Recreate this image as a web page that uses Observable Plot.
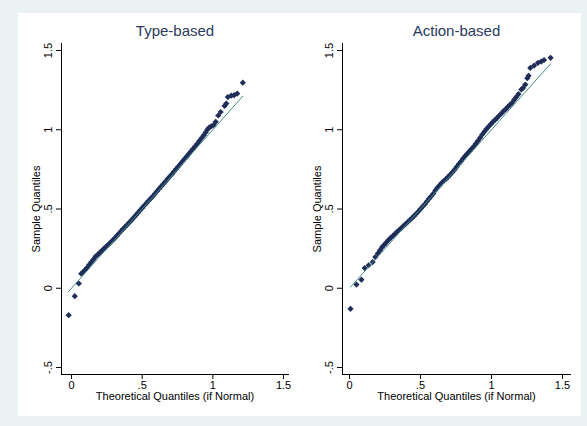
<!DOCTYPE html>
<html>
<head>
<meta charset="utf-8">
<script src="https://cdn.jsdelivr.net/npm/d3@7"></script>
<script src="https://cdn.jsdelivr.net/npm/@observablehq/plot@0.6"></script>
<style>
  html, body { margin: 0; padding: 0; }
  body { width: 587px; height: 426px; background: #eaf2f3; position: relative; overflow: hidden; font-family: "Liberation Sans", Arial, sans-serif; }
  #inner { position: absolute; left: 18px; top: 13px; width: 563px; height: 403px; background: #fff; }
  .panel { position: absolute; top: 13px; }
</style>
</head>
<body>
<div id="inner"></div>
<div id="p1" class="panel" style="left:18px"></div>
<div id="p2" class="panel" style="left:300px"></div>
<script>
const panelTitles = ["Type-based", "Action-based"];
const xLabel = "Theoretical Quantiles (if Normal)";
const yLabel = "Sample Quantiles";
const xTicks = [0, 0.5, 1, 1.5];
const yTicks = [-0.5, 0, 0.5, 1, 1.5];

// Type-based: theoretical quantiles (x) and sample quantiles (y)
const typeTheo = [-0.02, 0.023, 0.052, 0.069, 0.083, 0.095, 0.11, 0.125, 0.14, 0.155, 0.17, 0.185, 0.20, 0.215, 0.23, 0.245, 0.26, 0.275, 0.29, 0.305, 0.32, 0.335, 0.35, 0.365, 0.38, 0.395, 0.41, 0.425, 0.44, 0.455, 0.47, 0.485, 0.50, 0.515, 0.53, 0.545, 0.56, 0.575, 0.59, 0.605, 0.62, 0.635, 0.65, 0.665, 0.68, 0.695, 0.71, 0.725, 0.74, 0.755, 0.77, 0.785, 0.80, 0.815, 0.83, 0.845, 0.86, 0.875, 0.89, 0.905, 0.92, 0.935, 0.95, 0.962, 0.975, 0.99, 1.005, 1.02, 1.038, 1.055, 1.083, 1.095, 1.106, 1.13, 1.15, 1.172, 1.212];
const typeSample = [-0.17, -0.05, 0.03, 0.092, 0.103, 0.115, 0.13, 0.148, 0.165, 0.182, 0.2, 0.212, 0.225, 0.238, 0.25, 0.263, 0.275, 0.288, 0.302, 0.315, 0.33, 0.345, 0.36, 0.374, 0.388, 0.402, 0.416, 0.43, 0.445, 0.46, 0.476, 0.492, 0.507, 0.522, 0.537, 0.552, 0.566, 0.58, 0.596, 0.612, 0.628, 0.643, 0.658, 0.673, 0.69, 0.705, 0.72, 0.736, 0.752, 0.768, 0.784, 0.8, 0.816, 0.832, 0.848, 0.864, 0.88, 0.896, 0.912, 0.93, 0.948, 0.965, 0.985, 1.002, 1.015, 1.022, 1.03, 1.05, 1.09, 1.112, 1.15, 1.165, 1.206, 1.215, 1.218, 1.228, 1.297];

// Action-based
const actionTheo = [0.007, 0.049, 0.084, 0.107, 0.135, 0.163, 0.182, 0.20, 0.215, 0.23, 0.245, 0.26, 0.275, 0.29, 0.305, 0.32, 0.335, 0.35, 0.365, 0.38, 0.395, 0.41, 0.425, 0.44, 0.455, 0.47, 0.485, 0.50, 0.515, 0.53, 0.545, 0.56, 0.575, 0.59, 0.605, 0.62, 0.635, 0.65, 0.665, 0.68, 0.695, 0.71, 0.725, 0.74, 0.755, 0.77, 0.785, 0.80, 0.815, 0.83, 0.845, 0.86, 0.875, 0.89, 0.905, 0.92, 0.935, 0.95, 0.965, 0.98, 0.995, 1.01, 1.025, 1.04, 1.055, 1.07, 1.085, 1.10, 1.115, 1.13, 1.145, 1.16, 1.175, 1.19, 1.21, 1.222, 1.238, 1.252, 1.261, 1.273, 1.30, 1.327, 1.35, 1.37, 1.416];
const actionSample = [-0.13, 0.023, 0.054, 0.127, 0.145, 0.165, 0.197, 0.22, 0.24, 0.26, 0.275, 0.29, 0.305, 0.318, 0.33, 0.343, 0.356, 0.368, 0.38, 0.393, 0.405, 0.418, 0.43, 0.443, 0.456, 0.47, 0.485, 0.5, 0.515, 0.53, 0.548, 0.565, 0.58, 0.597, 0.618, 0.635, 0.65, 0.665, 0.678, 0.69, 0.703, 0.717, 0.732, 0.748, 0.766, 0.784, 0.8, 0.818, 0.835, 0.85, 0.865, 0.88, 0.895, 0.912, 0.93, 0.95, 0.97, 0.988, 1.005, 1.02, 1.035, 1.05, 1.062, 1.075, 1.09, 1.103, 1.118, 1.13, 1.145, 1.157, 1.17, 1.19, 1.207, 1.225, 1.254, 1.264, 1.285, 1.325, 1.34, 1.39, 1.405, 1.422, 1.43, 1.44, 1.454];

const fmt = d => d === 0 ? "0" : String(d).replace("0.", ".");
const markerColor = "#1f2d58";
const lineColor = "#3f8f84";

function panel(title, theo, sample, opts) {
  const pts = theo.map((t, i) => ({t, s: sample[i]}));
  const lo = d3.min(theo), hi = d3.max(theo);
  const ref = [{t: lo, s: lo}, {t: hi, s: hi}];
  return Plot.plot({
    width: opts.width,
    height: 400,
    marginLeft: opts.marginLeft,
    marginRight: opts.marginRight,
    marginTop: 30,
    marginBottom: 39,
    style: {background: "transparent", fontFamily: "'Liberation Sans', Arial, sans-serif", fontSize: "11px", color: "#000", overflow: "visible"},
    x: {domain: opts.xDomain},
    y: {domain: [-0.5442, 1.5442]},
    marks: [
      Plot.dot(pts, {x: "t", y: "s", symbol: "diamond2", r: 2.8, fill: markerColor, stroke: "none"}),
      Plot.line(ref, {x: "t", y: "s", stroke: lineColor, strokeWidth: 1}),
      Plot.frame({anchor: "left", stroke: "#000", strokeWidth: 1}),
      Plot.frame({anchor: "bottom", stroke: "#000", strokeWidth: 1}),
      Plot.axisX({ticks: xTicks, tickFormat: fmt, tickSize: 5, tickPadding: 2, label: null, fontSize: 11, stroke: "#000"}),
      Plot.axisY({ticks: yTicks, tickFormat: () => "", tickSize: 5, label: null, stroke: "#000"}),
      Plot.text(yTicks, {y: d => d, text: d => fmt(d), frameAnchor: "left", dx: -13, rotate: -90, textAnchor: "middle", lineAnchor: "middle", fontSize: 11, fill: "#000"}),
      Plot.text([yLabel], {frameAnchor: "left", dx: -25, rotate: -90, textAnchor: "middle", lineAnchor: "middle", fontSize: 11, fill: "#000"}),
      Plot.text([xLabel], {frameAnchor: "bottom", dy: 22, textAnchor: "middle", lineAnchor: "middle", fontSize: 11, fill: "#000"}),
      Plot.text([title], {frameAnchor: "top", dy: -8, textAnchor: "middle", lineAnchor: "bottom", fontSize: 15, fill: "#2b3a5e"})
    ]
  });
}

document.getElementById("p1").append(panel(panelTitles[0], typeTheo, typeSample, {
  width: 282, marginLeft: 43, marginRight: 12, xDomain: [-0.0708, 1.535]
}));
document.getElementById("p2").append(panel(panelTitles[1], actionTheo, actionSample, {
  width: 281, marginLeft: 42, marginRight: 11, xDomain: [-0.0493, 1.5563]
}));
</script>
</body>
</html>
